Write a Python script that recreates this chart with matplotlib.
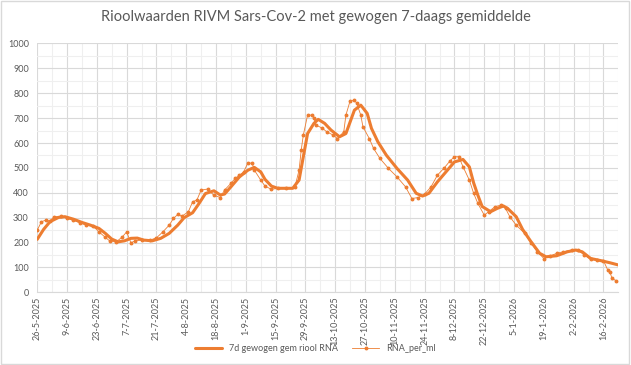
import numpy as np
import pandas as pd
import matplotlib
matplotlib.use('Agg')
import matplotlib.pyplot as plt
from matplotlib.patches import Rectangle

plt.rcParams['font.family'] = ['Lato', 'DejaVu Sans']

# dagen na 26-5-2025
start = '2025-05-26'
dag_ruw = [0, 2, 4, 6, 8, 11, 14, 17, 20, 23, 26, 29, 32, 34, 37, 40, 42, 44, 46, 49,
           53, 56, 59, 62, 64, 66, 68, 71, 73, 75, 77, 80, 83, 86, 88, 91, 93, 95, 97, 99,
           101, 102, 105, 107, 110, 113, 117, 121, 123, 124, 125, 127, 129, 130, 131, 134, 136, 139, 141, 144,
           145, 147, 149, 150, 152, 153, 156, 158, 161, 165, 169, 173, 176, 179, 182, 185, 188, 191, 194, 196,
           198, 200, 203, 205, 207, 210, 212, 215, 218, 220, 222, 225, 229, 232, 235, 238, 241, 244, 247, 251,
           254, 257, 260, 263, 266, 268, 269, 270, 272]
rna_per_ml = [250, 284, 290, 288, 304, 306, 297, 290, 280, 270, 268, 243, 221, 207, 202, 223, 243, 199, 207, 210,
              210, 219, 243, 270, 297, 313, 306, 324, 364, 371, 411, 415, 390, 381, 411, 438, 458, 471, 484, 521,
              518, 491, 451, 427, 414, 418, 418, 422, 491, 571, 632, 712, 712, 699, 672, 659, 645, 632, 618, 645,
              712, 770, 772, 761, 712, 665, 618, 578, 538, 498, 464, 424, 377, 381, 395, 424, 471, 498, 529, 545,
              545, 505, 451, 398, 357, 310, 324, 344, 351, 337, 304, 270, 237, 197, 163, 136, 146, 157, 163, 170,
              170, 150, 133, 130, 127, 90, 83, 56, 47]

dag_gem = [0, 3, 6, 10, 13, 17, 21, 25, 29, 32, 35, 38, 41, 44, 47, 50, 54, 58, 62, 66,
           69, 73, 76, 79, 83, 86, 88, 91, 95, 99, 102, 105, 107, 110, 113, 120, 123, 125, 127, 130,
           132, 135, 138, 142, 145, 147, 149, 152, 155, 157, 160, 164, 169, 174, 178, 181, 184, 188, 192, 196,
           200, 203, 205, 207, 209, 213, 216, 219, 221, 225, 228, 232, 236, 239, 244, 249, 253, 256, 260, 265,
           269, 273]
gem_7d = [213, 253, 284, 301, 304, 294, 281, 270, 257, 237, 214, 203, 207, 217, 218, 210, 207, 217, 237, 270,
          300, 320, 357, 397, 408, 391, 395, 424, 464, 491, 502, 484, 454, 427, 418, 418, 451, 545, 638, 679,
          695, 679, 652, 625, 638, 685, 732, 752, 719, 659, 605, 551, 498, 451, 398, 387, 398, 444, 484, 524,
          534, 504, 440, 390, 345, 324, 337, 347, 337, 304, 253, 203, 157, 143, 147, 163, 170, 163, 136, 127,
          119, 110]

oranje = '#ED7D31'
grijs = '#595959'

t0 = pd.Timestamp(start)
x_ruw = t0 + pd.to_timedelta(dag_ruw, unit='D')
x_gem = t0 + pd.to_timedelta(dag_gem, unit='D')
t_eind = t0 + pd.Timedelta(days=273)

fig = plt.figure(figsize=(6.31, 3.65), dpi=100)
ax = fig.add_axes([0.059, 0.199, 0.921, 0.682])

ax.plot(x_gem, gem_7d, color=oranje, lw=2.2, solid_capstyle='round', solid_joinstyle='round',
        label='7d gewogen gem riool RNA', zorder=3)
ax.plot(x_ruw, rna_per_ml, color=oranje, lw=0.6, marker='o', markersize=1.8,
        label='RNA_per_ml', zorder=4)

ax.set_ylim(0, 1000)
ax.set_yticks(range(0, 1001, 100))
ax.set_yticks(range(0, 1001, 50), minor=True)
ax.set_xlim(t0, t_eind)
ticks = pd.date_range(t0, periods=20, freq='14D')
ax.set_xticks(ticks)
ax.set_xticklabels([f'{d.day}-{d.month}-{d.year}' for d in ticks], rotation=90)
ax.set_xticks(pd.date_range(t0, t_eind, freq='7D'), minor=True)

ax.grid(which='major', color='#D9D9D9', lw=0.8)
ax.grid(which='minor', color='#EFEFEF', lw=0.8)
ax.set_axisbelow(True)
for s in ['top', 'right', 'left']:
    ax.spines[s].set_visible(False)
ax.spines['bottom'].set_color('#D9D9D9')
ax.tick_params(which='both', length=0, colors=grijs, labelsize=6.5)
ax.tick_params(axis='y', pad=6)
ax.tick_params(axis='x', pad=3)

fig.text(0.5, 0.953, 'Rioolwaarden RIVM Sars-Cov-2 met gewogen 7-daags gemiddelde',
         ha='center', va='center', fontsize=10.5, color=grijs)
fig.legend(loc='center', bbox_to_anchor=(0.5, 0.044), ncol=2, frameon=False, fontsize=6.5,
           labelcolor=grijs, handlelength=3, columnspacing=1.5)
fig.patches.append(Rectangle((0.002, 0.003), 0.995, 0.994, transform=fig.transFigure,
                             fill=False, ec='#D9D9D9', lw=1))

fig.savefig('out.png', dpi=100)
